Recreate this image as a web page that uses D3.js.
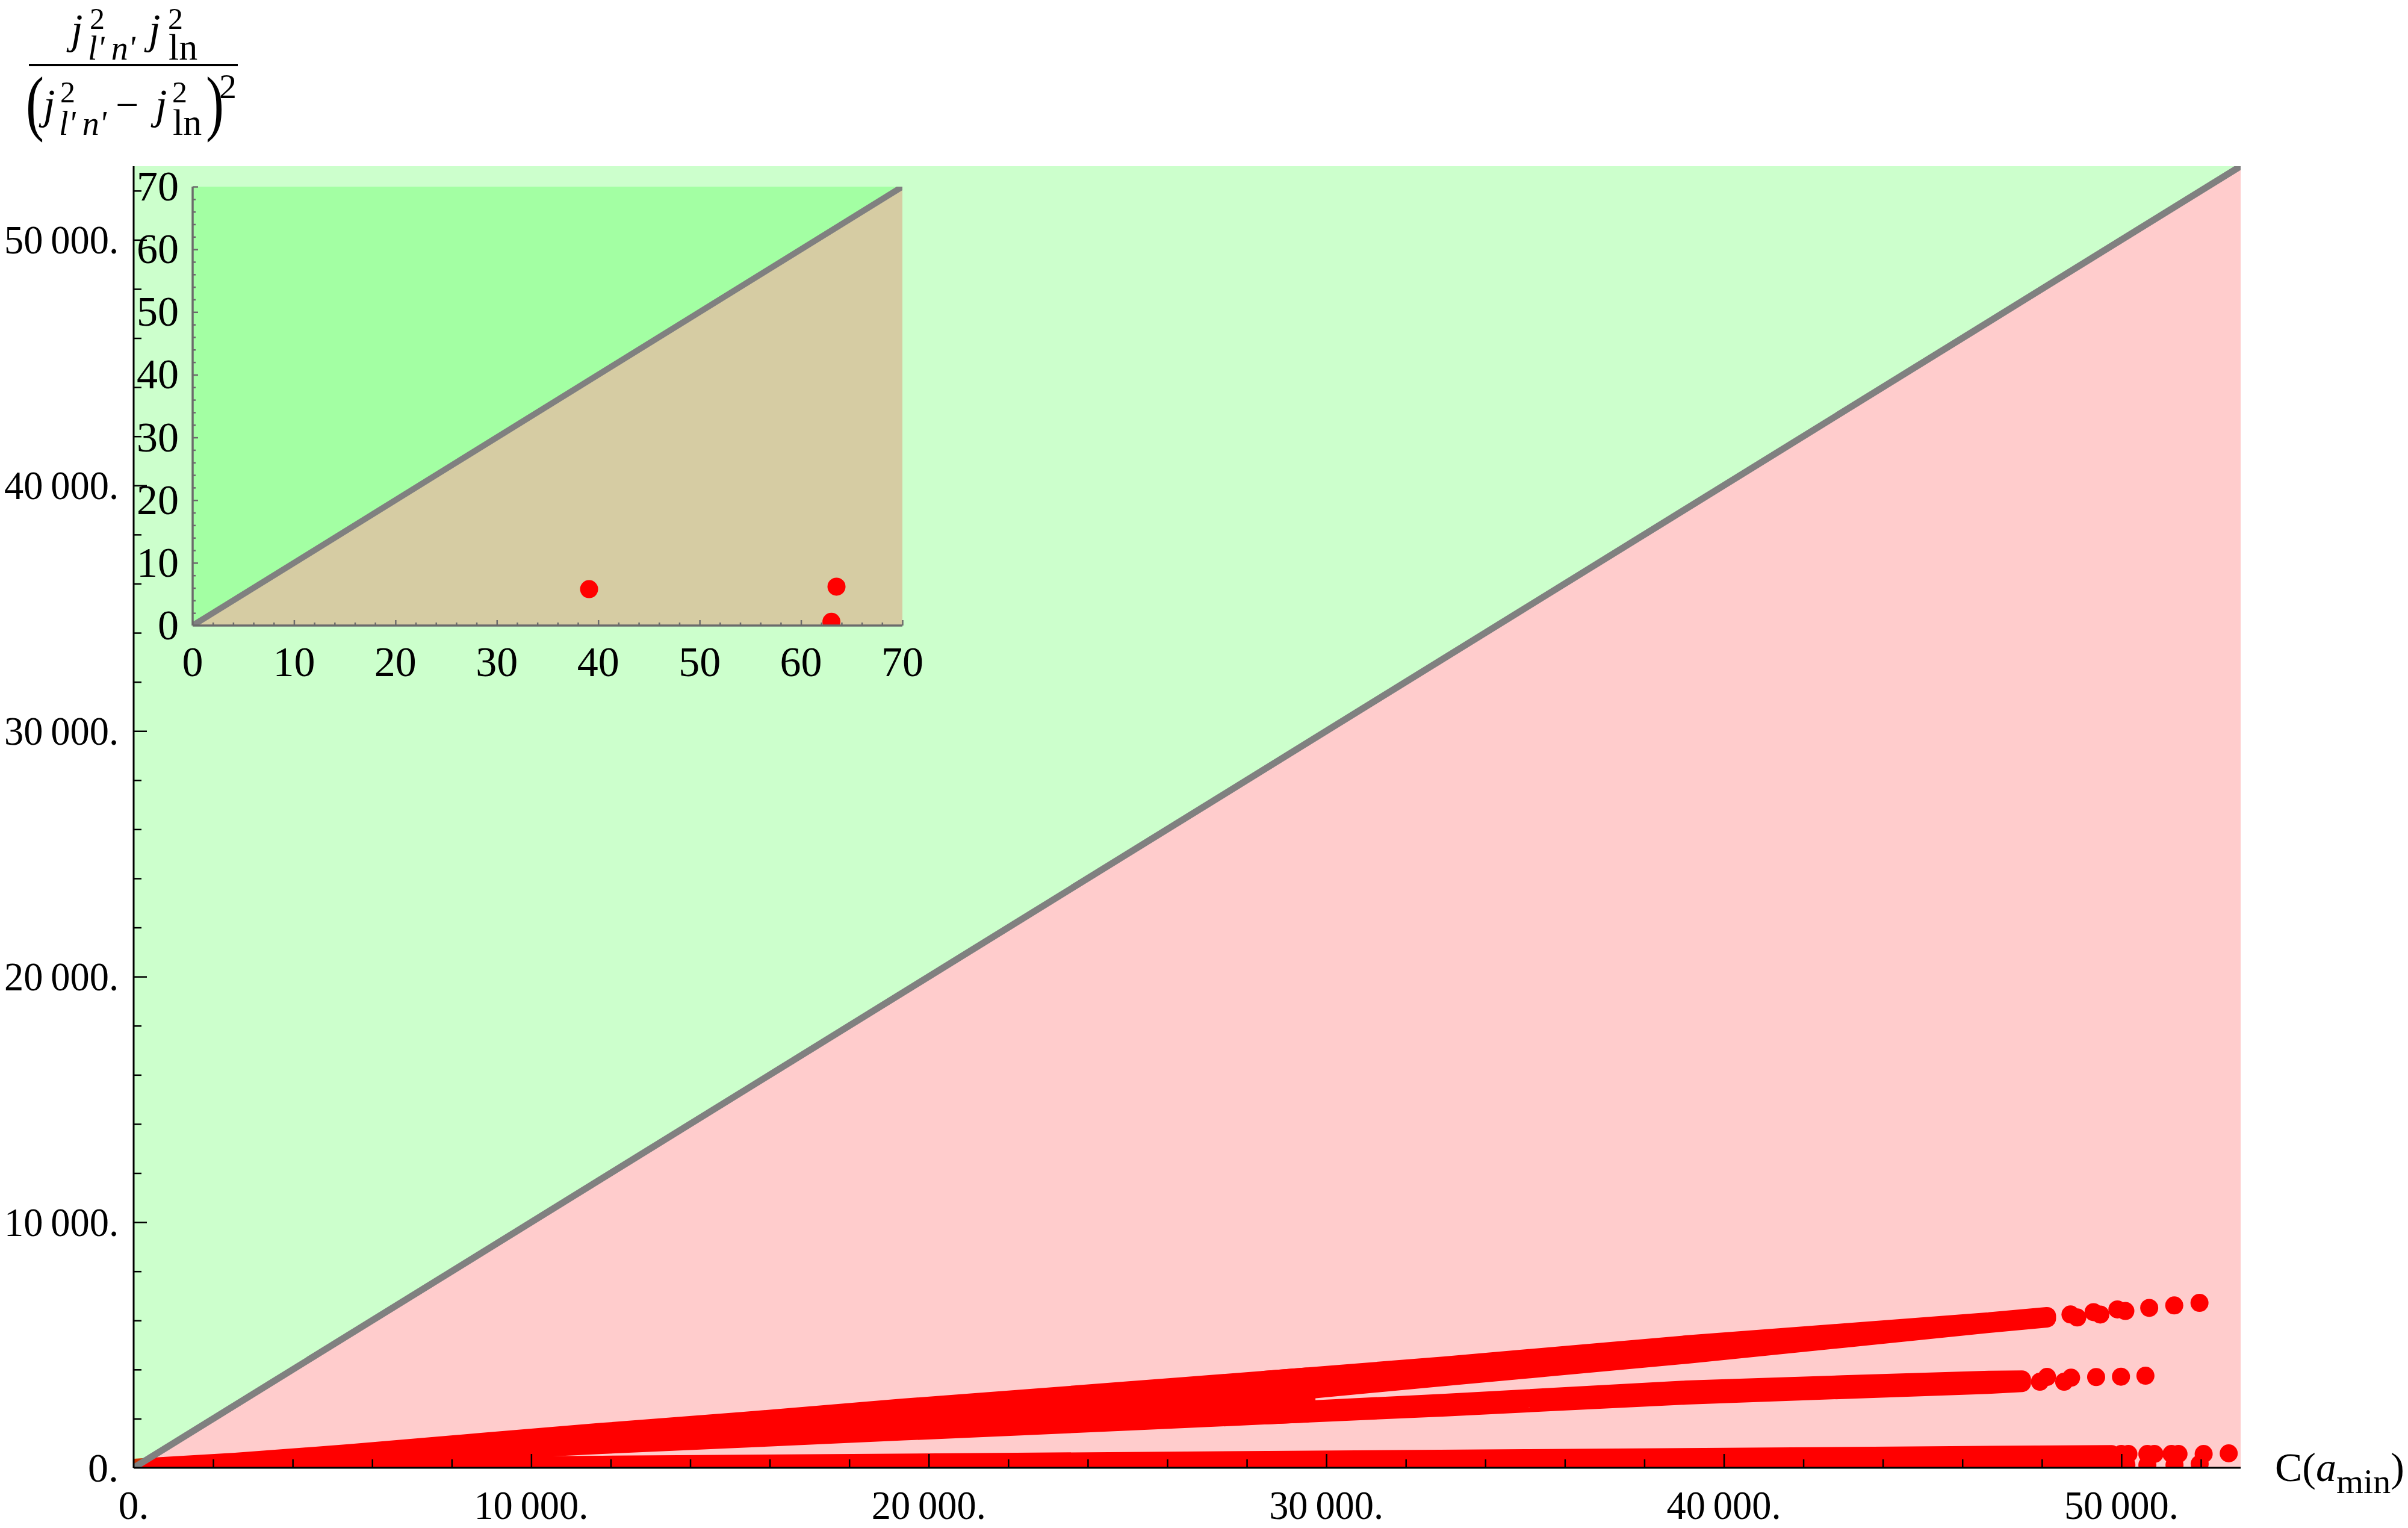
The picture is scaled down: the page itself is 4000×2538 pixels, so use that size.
<!DOCTYPE html>
<html>
<head>
<meta charset="utf-8">
<script src="https://cdnjs.cloudflare.com/ajax/libs/d3/7.8.5/d3.min.js"></script>
<style>
  html, body { margin: 0; padding: 0; background: #ffffff; }
  svg { display: block; }
</style>
</head>
<body>
<script>
// ---------------- data ----------------
const xDomain = [0, 53000];
const yDomain = [0, 53000];
const xTicks = [0, 10000, 20000, 30000, 40000, 50000];
const xTickLabels = ["0.", "10\u2009000.", "20\u2009000.", "30\u2009000.", "40\u2009000.", "50\u2009000."];
const yTicks = [0, 10000, 20000, 30000, 40000, 50000];
const yTickLabels = ["0.", "10\u2009000.", "20\u2009000.", "30\u2009000.", "40\u2009000.", "50\u2009000."];
const minorTicks = [2000,4000,6000,8000,12000,14000,16000,18000,22000,24000,26000,28000,32000,34000,36000,38000,42000,44000,46000,48000,52000];

// dense point clouds (centre envelopes of the overlapping markers)
const bandABx  = [0, 2560, 5470, 8750, 11780, 15270, 19360, 22220, 25000, 28440, 29500];
const bandABlo = [0, 200, 430, 690, 930, 1180, 1480, 1680, 1880, 2130, 2210];
const bandABhi = [0, 245, 600, 1054, 1463, 1900, 2451, 2800, 3150, 3578, 3715];

const bandAx  = [28440, 33000, 39050, 43000, 46620, 48130];
const bandAlo = [3000, 3700, 4600, 5250, 5850, 6080];
const bandAhi = [3578, 4170, 5024, 5510, 5956, 6180];

const bandBx  = [28440, 33000, 39050, 43000, 46720, 47500];
const bandBlo = [2130, 2460, 2941, 3170, 3382, 3450];
const bandBhi = [2280, 2650, 3186, 3400, 3586, 3600];

const bandCx  = [0, 11780, 22220, 35000, 49750];
const bandClo = [0, 0, 0, 0, 0];
const bandChi = [0, 123, 245, 390, 560];

// sparse ends of the clouds (individual markers)
const tailAx = [48720, 48890, 49300, 49470, 49900, 50100, 50700, 51330, 51965];
const tailAy = [6242, 6120, 6340, 6240, 6450, 6385, 6511, 6610, 6716];
const tailBx = [47950, 48130, 48560, 48735, 49365, 49990, 50605];
const tailBy = [3505, 3700, 3505, 3668, 3693, 3709, 3750];
const tailCx = [49998, 50177, 50126, 50654, 50831, 50654, 51260, 51437, 51336, 52070, 51969, 52700];
const tailCy = [564, 564, 114, 564, 564, 114, 564, 564, 114, 564, 155, 588];

// reference line y = x and shaded regions
const diagLine = [[0, 0], [53000, 53000]];
const regionAbove = [[0, 0], [0, 53000], [53000, 53000]];
const regionBelow = [[0, 0], [53000, 0], [53000, 53000]];

// inset
const insetDomain = [0, 70];
const insetTicks = [0, 10, 20, 30, 40, 50, 60, 70];
const insetTickLabels = ["0", "10", "20", "30", "40", "50", "60", "70"];
const insetMinor = [2,4,6,8,12,14,16,18,22,24,26,28,32,34,36,38,42,44,46,48,52,54,56,58,62,64,66,68];
const insetX = [39.1, 63.5, 63.0];
const insetY = [5.8, 6.2, 0.6];
const insetLine = [[0, 0], [70, 70]];
const insetAbove = [[0, 0], [0, 70], [70, 70]];
const insetBelow = [[0, 0], [70, 0], [70, 70]];

// ---------------- drawing ----------------
const W = 4000, H = 2538;
const FONT = "'Liberation Serif','Times New Roman',Times,serif";
const R = 15;
const RED = "#ff0000";

const svg = d3.select("body").append("svg")
  .attr("width", W).attr("height", H).attr("viewBox", `0 0 ${W} ${H}`);
svg.append("rect").attr("width", W).attr("height", H).attr("fill", "#ffffff");

const x = d3.scaleLinear().domain(xDomain).range([222, 3722]);
const y = d3.scaleLinear().domain(yDomain).range([2438, 276]);

const defs = svg.append("defs");
defs.append("clipPath").attr("id", "mainClip").append("rect")
  .attr("x", x(0)).attr("y", y(yDomain[1]))
  .attr("width", x(xDomain[1]) - x(0)).attr("height", y(0) - y(yDomain[1]));

const plot = svg.append("g").attr("clip-path", "url(#mainClip)");

function drawBand(g, sx, sy, xs, lo, hi) {
  const pts = xs.map((d, i) => ({ x: d, lo: lo[i], hi: hi[i] }));
  const area = d3.area().x(d => sx(d.x)).y0(d => sy(d.lo)).y1(d => sy(d.hi));
  g.append("path").attr("d", area(pts))
    .attr("fill", RED).attr("stroke", RED)
    .attr("stroke-width", 2 * R).attr("stroke-linejoin", "round").attr("stroke-linecap", "round");
}
function drawDots(g, sx, sy, xs, ys) {
  g.append("g").selectAll("circle").data(xs.map((d, i) => [d, ys[i]])).join("circle")
    .attr("cx", d => sx(d[0])).attr("cy", d => sy(d[1])).attr("r", R).attr("fill", RED);
}

drawBand(plot, x, y, bandCx, bandClo, bandChi);
drawBand(plot, x, y, bandABx, bandABlo, bandABhi);
drawBand(plot, x, y, bandAx, bandAlo, bandAhi);
drawBand(plot, x, y, bandBx, bandBlo, bandBhi);
drawDots(plot, x, y, tailAx, tailAy);
drawDots(plot, x, y, tailBx, tailBy);
drawDots(plot, x, y, tailCx, tailCy);

const poly = d3.line();
plot.append("path").attr("d", poly(regionAbove.map(p => [x(p[0]), y(p[1])])) + "Z")
  .attr("fill", "rgb(0,255,0)").attr("fill-opacity", 0.2);
plot.append("path").attr("d", poly(regionBelow.map(p => [x(p[0]), y(p[1])])) + "Z")
  .attr("fill", "rgb(255,0,0)").attr("fill-opacity", 0.2);
plot.append("path").attr("d", poly(diagLine.map(p => [x(p[0]), y(p[1])])))
  .attr("stroke", "#808080").attr("stroke-width", 11).attr("fill", "none");

// main axes
function styleAxis(g, color, dw, tw) {
  g.select(".domain").attr("stroke", color).attr("stroke-width", dw);
  g.selectAll(".tick line").attr("stroke", color).attr("stroke-width", tw);
  g.selectAll(".tick text").remove();
}
const gxMinor = svg.append("g").attr("transform", `translate(0,${y(0)})`)
  .call(d3.axisBottom(x).tickValues(minorTicks).tickSize(-14).tickSizeOuter(0).tickFormat(""));
styleAxis(gxMinor, "#000", 3, 2.5);
gxMinor.select(".domain").remove();
const gxMajor = svg.append("g").attr("transform", `translate(0,${y(0)})`)
  .call(d3.axisBottom(x).tickValues(xTicks.filter(v => v > 0)).tickSize(-23).tickSizeOuter(0).tickFormat(""));
styleAxis(gxMajor, "#000", 3, 2.5);
gxMajor.select(".domain").attr("d", `M${x(0)},0H${x(xDomain[1])}`);

const gyMinor = svg.append("g").attr("transform", `translate(${x(0)},0)`)
  .call(d3.axisLeft(y).tickValues(minorTicks).tickSize(-13).tickSizeOuter(0).tickFormat(""));
styleAxis(gyMinor, "#000", 3, 2.5);
gyMinor.select(".domain").remove();
const gyMajor = svg.append("g").attr("transform", `translate(${x(0)},0)`)
  .call(d3.axisLeft(y).tickValues(yTicks.filter(v => v > 0)).tickSize(-22).tickSizeOuter(0).tickFormat(""));
styleAxis(gyMajor, "#000", 3, 2.5);
gyMajor.select(".domain").attr("d", `M0,${y(0)}V${y(yDomain[1])}`);

const labels = svg.append("g").attr("font-family", FONT).attr("fill", "#000").attr("font-size", 68);
labels.selectAll(".xl").data(xTicks).join("text").attr("class", "xl")
  .attr("x", d => x(d)).attr("y", 2523).attr("text-anchor", "middle")
  .each(function (d, i) {
    const s = d3.select(this).text(xTickLabels[i]);
    if (d > 0) s.attr("textLength", 190).attr("lengthAdjust", "spacingAndGlyphs");
  });
labels.selectAll(".yl").data(yTicks).join("text").attr("class", "yl")
  .attr("x", 197).attr("y", d => y(d) + 23).attr("text-anchor", "end")
  .each(function (d, i) {
    const s = d3.select(this).text(yTickLabels[i]);
    if (d > 0) s.attr("textLength", 190).attr("lengthAdjust", "spacingAndGlyphs");
  });

// ---------------- inset ----------------
const ix = d3.scaleLinear().domain(insetDomain).range([320, 1499]);
const iy = d3.scaleLinear().domain(insetDomain).range([1039, 310]);
defs.append("clipPath").attr("id", "insetClip").append("rect")
  .attr("x", ix(0)).attr("y", iy(70)).attr("width", ix(70) - ix(0)).attr("height", iy(0) - iy(70));
const inset = svg.append("g");
const iplot = inset.append("g").attr("clip-path", "url(#insetClip)");
drawDots(iplot, ix, iy, insetX, insetY);
iplot.append("path").attr("d", poly(insetAbove.map(p => [ix(p[0]), iy(p[1])])) + "Z")
  .attr("fill", "rgb(0,255,0)").attr("fill-opacity", 0.2);
iplot.append("path").attr("d", poly(insetBelow.map(p => [ix(p[0]), iy(p[1])])) + "Z")
  .attr("fill", "rgb(255,0,0)").attr("fill-opacity", 0.2);
iplot.append("path").attr("d", poly(insetLine.map(p => [ix(p[0]), iy(p[1])])))
  .attr("stroke", "#808080").attr("stroke-width", 10).attr("fill", "none");

const IGRAY = "#6b6b6b";
const ixMinor = inset.append("g").attr("transform", `translate(0,${iy(0)})`)
  .call(d3.axisBottom(ix).tickValues(insetMinor).tickSize(-5).tickSizeOuter(0).tickFormat(""));
styleAxis(ixMinor, IGRAY, 3.5, 2.5); ixMinor.select(".domain").remove();
const ixMajor = inset.append("g").attr("transform", `translate(0,${iy(0)})`)
  .call(d3.axisBottom(ix).tickValues(insetTicks.filter(v => v > 0)).tickSize(-9).tickSizeOuter(0).tickFormat(""));
styleAxis(ixMajor, IGRAY, 3.5, 2.5);
ixMajor.select(".domain").attr("d", `M${ix(0)},0H${ix(70)}`);
const iyMinor = inset.append("g").attr("transform", `translate(${ix(0)},0)`)
  .call(d3.axisLeft(iy).tickValues(insetMinor).tickSize(-5).tickSizeOuter(0).tickFormat(""));
styleAxis(iyMinor, IGRAY, 3.5, 2.5); iyMinor.select(".domain").remove();
const iyMajor = inset.append("g").attr("transform", `translate(${ix(0)},0)`)
  .call(d3.axisLeft(iy).tickValues(insetTicks.filter(v => v > 0)).tickSize(-9).tickSizeOuter(0).tickFormat(""));
styleAxis(iyMajor, IGRAY, 3.5, 2.5);
iyMajor.select(".domain").attr("d", `M0,${iy(0)}V${iy(70)}`);

const ilabels = inset.append("g").attr("font-family", FONT).attr("fill", "#000").attr("font-size", 70);
ilabels.selectAll(".ixl").data(insetTicks).join("text").attr("class", "ixl")
  .attr("x", d => ix(d)).attr("y", 1123).attr("text-anchor", "middle")
  .text((d, i) => insetTickLabels[i]);
ilabels.selectAll(".iyl").data(insetTicks).join("text").attr("class", "iyl")
  .attr("x", 297).attr("y", d => iy(d) + 23).attr("text-anchor", "end")
  .text((d, i) => insetTickLabels[i]);

// ---------------- axis titles ----------------
const xt = svg.append("text").attr("x", 3779).attr("y", 2460)
  .attr("font-family", FONT).attr("font-size", 68).attr("fill", "#000");
xt.append("tspan").text("C(");
xt.append("tspan").attr("font-style", "italic").text("a");
xt.append("tspan").attr("font-size", 58).attr("dy", 20).text("min");
xt.append("tspan").attr("dy", -20).text(")");

const yt = svg.append("g").attr("font-family", FONT).attr("fill", "#000");
// numerator: j^2_{l' n'} j^2_{ln}
const num1 = yt.append("text").attr("x", 118).attr("y", 72).attr("font-size", 70);
num1.append("tspan").attr("font-style", "italic").text("j");
num1.append("tspan").attr("x", 149).attr("y", 48).attr("font-size", 50).text("2");
const num1s = yt.append("text").attr("x", 146).attr("y", 99).attr("font-size", 56).attr("font-style", "italic").text("l'\u2009n'");
const num2 = yt.append("text").attr("x", 247).attr("y", 72).attr("font-size", 70);
num2.append("tspan").attr("font-style", "italic").text("j");
num2.append("tspan").attr("x", 279).attr("y", 48).attr("font-size", 50).text("2");
yt.append("text").attr("x", 280).attr("y", 99).attr("font-size", 62).text("ln");
// fraction bar
yt.append("line").attr("x1", 48).attr("x2", 395).attr("y1", 108).attr("y2", 108)
  .attr("stroke", "#000").attr("stroke-width", 4);
// denominator: (j^2_{l' n'} - j^2_{ln})^2
yt.append("text").attr("transform", "translate(43,211) scale(0.75,1)")
  .attr("font-size", 120).text("(");
const den1 = yt.append("text").attr("x", 72).attr("y", 197).attr("font-size", 70);
den1.append("tspan").attr("font-style", "italic").text("j");
den1.append("tspan").attr("x", 100).attr("y", 170).attr("font-size", 50).text("2");
yt.append("text").attr("x", 98).attr("y", 224).attr("font-size", 56).attr("font-style", "italic").text("l'\u2009n'");
yt.append("text").attr("x", 192).attr("y", 197).attr("font-size", 68).text("\u2212");
const den2 = yt.append("text").attr("x", 258).attr("y", 197).attr("font-size", 70);
den2.append("tspan").attr("font-style", "italic").text("j");
den2.append("tspan").attr("x", 286).attr("y", 170).attr("font-size", 50).text("2");
yt.append("text").attr("x", 287).attr("y", 224).attr("font-size", 62).text("ln");
yt.append("text").attr("transform", "translate(342,211) scale(0.75,1)")
  .attr("font-size", 120).text(")");
yt.append("text").attr("x", 364).attr("y", 163).attr("font-size", 58).text("2");
</script>
</body>
</html>
